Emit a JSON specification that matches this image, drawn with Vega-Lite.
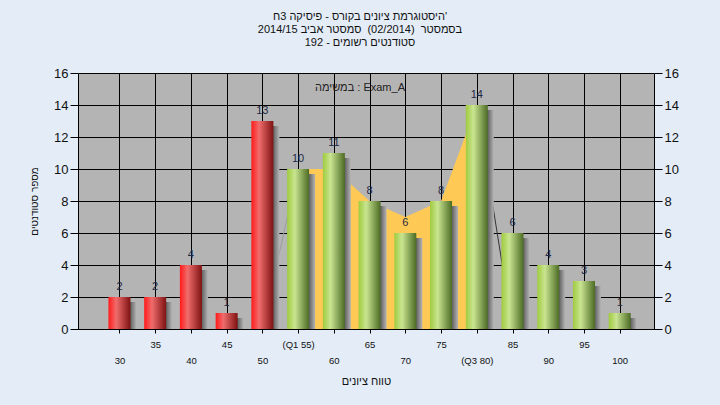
{
  "$schema": "https://vega.github.io/schema/vega-lite/v6.json",
  "width": 576,
  "height": 256,
  "autosize": "none",
  "padding": {"left": 78, "top": 73, "right": 66, "bottom": 76},
  "background": "#e3ecf7",
  "view": {"fill": "#b4b4b4", "stroke": null},
  "config": {"font": "Liberation Sans, DejaVu Sans"},
  "title": {
    "text": ["היסטוגרמת ציונים בקורס - פיסיקה 3ח'", "בסמסטר \u00a0(02/2014) \u00a0סמסטר אביב 2014/15", "סטודנטים רשומים - 192"],
    "subtitle": "במשימה : Exam_A",
    "anchor": "middle",
    "frame": "group",
    "fontSize": 11,
    "fontWeight": "normal",
    "lineHeight": 13,
    "color": "#111111",
    "subtitleFontSize": 11,
    "subtitleColor": "#222222",
    "subtitlePadding": 34,
    "offset": -26,
    "dx": -6
  },
  "datasets": {
    "bars": [
      {"score": 30, "count": 2, "group": "fail"},
      {"score": 35, "count": 2, "group": "fail"},
      {"score": 40, "count": 4, "group": "fail"},
      {"score": 45, "count": 1, "group": "fail"},
      {"score": 50, "count": 13, "group": "fail"},
      {"score": 55, "count": 10, "group": "pass"},
      {"score": 60, "count": 11, "group": "pass"},
      {"score": 65, "count": 8, "group": "pass"},
      {"score": 70, "count": 6, "group": "pass"},
      {"score": 75, "count": 8, "group": "pass"},
      {"score": 80, "count": 14, "group": "pass"},
      {"score": 85, "count": 6, "group": "pass"},
      {"score": 90, "count": 4, "group": "pass"},
      {"score": 95, "count": 3, "group": "pass"},
      {"score": 100, "count": 1, "group": "pass"}
    ],
    "iqr": [
      {"score": 55, "count": 10},
      {"score": 60, "count": 10},
      {"score": 65, "count": 8},
      {"score": 70, "count": 7},
      {"score": 75, "count": 8},
      {"score": 80, "count": 14}
    ],
    "edges": [
      {"score": 50, "count": 0, "seg": "a"},
      {"score": 55, "count": 10, "seg": "a"},
      {"score": 80, "count": 14, "seg": "b"},
      {"score": 85, "count": 0, "seg": "b"}
    ]
  },
  "encoding": {
    "x": {
      "field": "score",
      "type": "quantitative",
      "scale": {"domain": [24.9, 104.1], "nice": false, "zero": false},
      "axis": {
        "values": [30, 35, 40, 45, 50, 55, 60, 65, 70, 75, 80, 85, 90, 95, 100],
        "labelExpr": "datum.value == 55 ? ['(Q1 55)'] : datum.value == 80 ? ['', '(Q3 80)'] : datum.value % 10 == 0 ? ['', datum.label] : [datum.label]",
        "labelLineHeight": 16,
        "labelFontSize": 9.5,
        "labelColor": "#111111",
        "labelPadding": 6,
        "labelOverlap": false,
        "labelBound": false,
        "labelFlush": false,
        "labelBaseline": "top",
        "grid": true,
        "gridColor": "#000000",
        "gridWidth": 1,
        "gridOpacity": 1,
        "tickColor": "#000000",
        "tickSize": 4,
        "domainColor": "#000000",
        "title": "טווח ציונים",
        "titleFontSize": 11,
        "titleFontWeight": "normal",
        "titleColor": "#111111",
        "titlePadding": 11
      }
    },
    "y": {
      "field": "count",
      "type": "quantitative",
      "scale": {"domain": [0, 16], "nice": false},
      "axis": {
        "values": [0, 2, 4, 6, 8, 10, 12, 14, 16],
        "grid": true,
        "gridColor": "#000000",
        "gridWidth": 1,
        "gridOpacity": 1,
        "tickColor": "#000000",
        "tickSize": 8,
        "domainColor": "#000000",
        "labelFontSize": 13,
        "labelColor": "#111111",
        "labelPadding": 2,
        "title": "מספר סטודנטים",
        "titleFontSize": 10,
        "titleFontWeight": "normal",
        "titleColor": "#111111",
        "titlePadding": 14
      }
    }
  },
  "layer": [
    {
      "layer": [
        {
          "data": {"name": "iqr"},
          "mark": {"type": "area", "color": "#ffc955", "opacity": 1}
        },
        {
          "data": {"name": "edges"},
          "mark": {"type": "line", "strokeWidth": 1},
          "encoding": {
            "detail": {"field": "seg"},
            "color": {"field": "seg", "type": "nominal", "scale": {"domain": ["a", "b"], "range": ["#9c9c9c", "#333333"]}, "legend": null}
          }
        },
        {
          "data": {"name": "bars"},
          "mark": {
            "type": "bar",
            "width": 22,
            "xOffset": 6,
            "yOffset": 5,
            "clip": true,
            "color": {
              "gradient": "linear", "x1": 0, "y1": 0, "x2": 1, "y2": 0,
              "stops": [
                {"offset": 0, "color": "#3c3c3c"},
                {"offset": 0.7, "color": "#5a5a5a"},
                {"offset": 1, "color": "#b4b4b4"}
              ]
            }
          }
        },
        {
          "data": {"name": "bars"},
          "transform": [{"filter": "datum.group == 'fail'"}],
          "mark": {
            "type": "bar",
            "width": 22,
            "color": {
              "gradient": "linear", "x1": 0, "y1": 0, "x2": 1, "y2": 0,
              "stops": [
                {"offset": 0, "color": "#ff1a1a"},
                {"offset": 0.35, "color": "#f06c6c"},
                {"offset": 1, "color": "#7e1212"}
              ]
            }
          }
        },
        {
          "data": {"name": "bars"},
          "transform": [{"filter": "datum.group == 'pass'"}],
          "mark": {
            "type": "bar",
            "width": 22,
            "color": {
              "gradient": "linear", "x1": 0, "y1": 0, "x2": 1, "y2": 0,
              "stops": [
                {"offset": 0, "color": "#9fcb3e"},
                {"offset": 0.35, "color": "#c9e591"},
                {"offset": 1, "color": "#4c6b24"}
              ]
            }
          }
        }
      ]
    },
    {
      "data": {"name": "bars"},
      "mark": {"type": "text", "fontSize": 11, "color": "#1e2a44", "baseline": "alphabetic", "dy": -7},
      "encoding": {
        "text": {"field": "count", "type": "quantitative"},
        "y": {
          "field": "count",
          "type": "quantitative",
          "scale": {"domain": [0, 16], "nice": false},
          "axis": {
            "orient": "right",
            "values": [0, 2, 4, 6, 8, 10, 12, 14, 16],
            "grid": false,
            "tickColor": "#000000",
            "tickSize": 8,
            "domainColor": "#000000",
            "labelFontSize": 13,
            "labelColor": "#111111",
            "labelPadding": 2,
            "title": null
          }
        }
      }
    }
  ],
  "resolve": {"axis": {"y": "independent"}}
}
